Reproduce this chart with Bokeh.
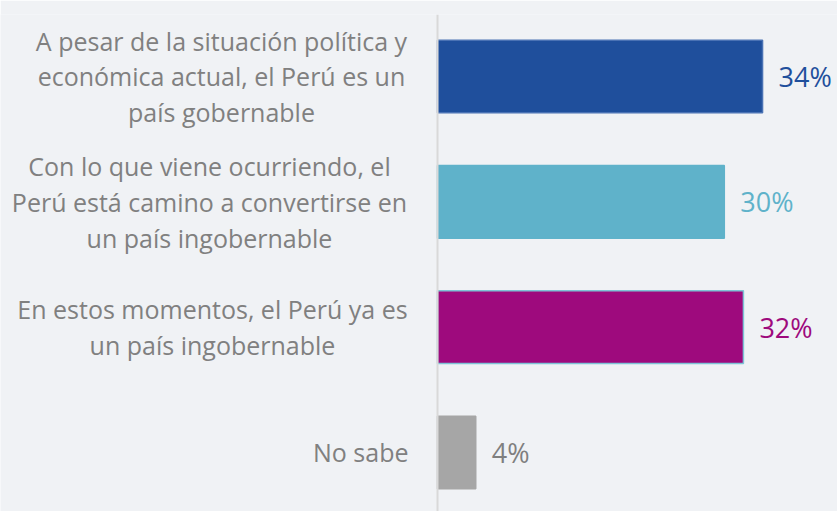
from bokeh.plotting import figure
from bokeh.models import Range1d, Span, ColumnDataSource
from bokeh.core.properties import value
from bokeh.embed import file_html
from bokeh.resources import INLINE

categories = [
    "A pesar de la situación política y\neconómica actual, el Perú es un\npaís gobernable",
    "Con lo que viene ocurriendo, el\nPerú está camino a convertirse en\nun país ingobernable",
    "En estos momentos, el Perú ya es\nun país ingobernable",
    "No sabe",
]
values = [34, 30, 32, 4]
value_labels = ["34%", "30%", "32%", "4%"]
bar_colors = ["#1f4f9c", "#5fb2ca", "#9e0a7d", "#a6a6a6"]
text_colors = ["#1f4f9c", "#5fb2ca", "#9e0a7d", "#7f7f7f"]
outline_colors = ["#4a72b4", "#5fb2ca", "#7ec4d6", "#a6a6a6"]

BG = "#f0f2f5"
FONT = "Open Sans"

ypos = list(range(len(categories)))

p = figure(width=837, height=511, output_backend="svg", toolbar_location=None,
           x_range=Range1d(-45.71, 41.84), y_range=Range1d(3.4708, -0.4947),
           min_border_left=0, min_border_right=0, min_border_top=14, min_border_bottom=0,
           background_fill_color=BG, border_fill_color=BG, outline_line_color=None)
p.xaxis.visible = False
p.yaxis.visible = False
p.grid.visible = False

src = ColumnDataSource(dict(y=ypos, v=values, c=bar_colors, oc=outline_colors,
                            lab=value_labels, tc=text_colors))
p.hbar(y="y", left=0, right="v", height=0.58, fill_color="c", line_color="oc",
       line_width=1.5, source=src)

p.add_layout(Span(location=0, dimension="height", line_color="#d9d9d9", line_width=2))

p.text(x="v", y="y", text="lab", text_color="tc", x_offset=16, source=src,
       text_font=value(FONT), text_font_size="27px", text_baseline="middle",
       text_align="left")

# category labels (centre of each text block, in px -> data units)
aligns = ["center", "center", "center", "right"]
xs = [(221 - 437) / 9.56, (209 - 437) / 9.56, (212 - 437) / 9.56, (408 - 437) / 9.56]
for i, cat in enumerate(categories):
    p.text(x=[xs[i]], y=[ypos[i]], text=[cat], text_color="#808080",
           text_font=value(FONT), text_font_size="25px", text_baseline="middle",
           text_align=aligns[i], text_line_height=1.05)

open("out.html", "w").write(file_html(p, INLINE))
